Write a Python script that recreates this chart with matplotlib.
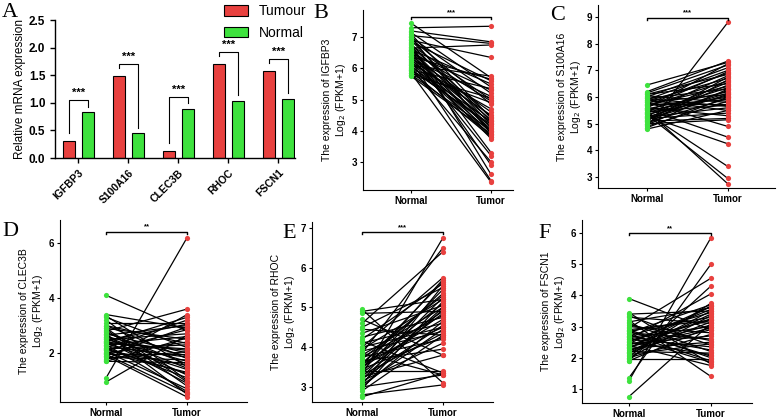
import matplotlib
matplotlib.use("Agg")
import matplotlib.pyplot as plt

plt.rcParams['font.family'] = ['Liberation Sans', 'DejaVu Sans']

# panel A: qPCR bars
genes = ["IGFBP3", "S100A16", "CLEC3B", "RHOC", "FSCN1"]
tumour_rel = [0.30, 1.49, 0.13, 1.70, 1.57]
normal_rel = [0.83, 0.45, 0.89, 1.04, 1.07]
bar_stars = ["***", "***", "***", "***", "***"]

# panels B-F: paired normal / tumor values (log2 FPKM+1)
igfbp3_normal = [7.45, 7.30, 7.20, 7.15, 7.10, 7.05, 7.00, 7.00, 6.95, 6.90, 6.90, 6.85, 6.80, 6.78, 6.75, 6.70, 6.70,
                 6.65, 6.62, 6.60, 6.60, 6.55, 6.55, 6.50, 6.48, 6.45, 6.40, 6.40, 6.38, 6.35, 6.30, 6.30, 6.28, 6.25,
                 6.20, 6.18, 6.15, 6.10, 6.10, 6.05, 6.00, 5.98, 5.95, 5.95, 5.90, 5.85, 5.85, 5.80, 5.78, 5.75]
igfbp3_tumor = [5.70, 7.35, 6.85, 5.40, 4.40, 6.80, 5.20, 3.90, 4.85, 6.35, 4.30, 5.60, 2.60, 4.20, 5.00, 3.30, 4.45,
                6.75, 4.10, 5.50, 3.80, 4.95, 2.90, 4.35, 5.30, 4.00, 3.20, 4.60, 5.65, 4.25, 3.75, 5.10, 4.05, 2.40,
                4.50, 3.95, 4.70, 5.75, 3.85, 4.30, 3.00, 4.15, 5.35, 4.20, 3.80, 4.90, 2.35, 4.00, 5.05, 3.90]

s100a16_normal = [6.45, 6.20, 6.15, 6.10, 6.05, 6.00, 5.95, 5.90, 5.90, 5.85, 5.80, 5.80, 5.75, 5.70, 5.70, 5.65, 5.60,
                  5.60, 5.55, 5.55, 5.50, 5.50, 5.45, 5.45, 5.40, 5.40, 5.35, 5.35, 5.30, 5.30, 5.25, 5.25, 5.20, 5.20,
                  5.15, 5.10, 5.10, 5.05, 5.00, 5.00, 4.95, 4.90, 4.85, 4.85, 4.80, 5.60, 5.75, 6.10, 5.95, 5.15]
s100a16_tumor = [7.30, 7.35, 7.20, 6.50, 5.80, 7.10, 6.30, 5.50, 7.00, 6.70, 6.10, 4.90, 6.90, 6.40, 5.90, 6.60, 5.30,
                 7.25, 6.20, 4.50, 6.00, 2.75, 6.80, 5.70, 6.35, 3.40, 6.05, 2.95, 6.55, 4.25, 5.60, 6.15, 6.45, 5.40,
                 6.25, 5.20, 6.75, 5.95, 6.65, 5.15, 6.30, 5.85, 8.80, 6.00, 5.50, 6.95, 5.75, 6.85, 5.65, 6.10]

clec3b_normal = [4.10, 3.40, 3.35, 3.30, 3.20, 3.10, 3.00, 2.90, 2.85, 2.80, 2.75, 2.70, 2.70, 2.65, 2.60, 2.55, 2.50,
                 2.50, 2.45, 2.40, 2.40, 2.35, 2.30, 2.30, 2.25, 2.20, 2.20, 2.15, 2.10, 2.10, 2.05, 2.00, 2.00, 1.95,
                 1.90, 1.90, 1.85, 1.80, 1.75, 1.70, 1.70, 1.10, 0.95, 2.60, 2.90, 3.00, 2.15, 2.45, 1.95, 2.35]
clec3b_tumor = [2.80, 2.90, 1.50, 2.20, 1.00, 3.10, 1.80, 2.50, 0.80, 3.60, 1.60, 2.00, 0.50, 3.00, 1.90, 1.20, 2.70,
                1.70, 0.90, 3.30, 2.10, 1.40, 2.60, 0.60, 1.85, 3.20, 1.10, 2.30, 1.55, 2.85, 0.70, 2.40, 1.30, 1.95,
                2.95, 0.40, 1.75, 2.05, 3.40, 1.65, 2.55, 6.20, 2.65, 1.45, 0.95, 2.35, 1.25, 3.05, 0.55, 2.15]

rhoc_normal = [4.95, 4.90, 4.85, 4.70, 4.60, 4.50, 4.45, 4.20, 4.15, 4.10, 4.00, 3.95, 3.90, 3.85, 3.80, 3.75, 3.70,
               3.65, 3.60, 3.55, 3.50, 3.50, 3.45, 3.40, 3.40, 3.35, 3.30, 3.30, 3.25, 3.25, 3.20, 3.20, 3.15, 3.10,
               3.05, 3.05, 3.00, 3.00, 2.95, 2.90, 2.80, 2.75, 4.25, 3.60, 3.75, 4.35, 3.85, 3.55, 3.45, 4.00]
rhoc_tumor = [3.10, 5.20, 4.90, 3.80, 6.40, 5.50, 4.30, 5.60, 3.35, 4.60, 5.75, 5.20, 4.40, 6.50, 5.00, 4.80, 5.30,
              3.95, 4.50, 5.65, 4.70, 5.10, 4.25, 5.45, 3.40, 4.85, 6.75, 4.35, 5.25, 3.80, 4.55, 5.00, 4.10, 4.95,
              5.55, 4.45, 3.30, 4.65, 5.15, 4.30, 3.05, 3.35, 4.75, 5.35, 4.20, 5.05, 3.30, 4.90, 5.70, 4.50]

fscn1_normal = [3.90, 3.45, 3.40, 3.35, 3.30, 3.20, 3.15, 3.10, 3.00, 2.95, 2.90, 2.85, 2.80, 2.80, 2.75, 2.70, 2.65,
                2.60, 2.60, 2.55, 2.50, 2.50, 2.45, 2.40, 2.40, 2.35, 2.30, 2.30, 2.25, 2.20, 2.20, 2.15, 2.10, 2.05,
                2.00, 2.00, 1.95, 1.90, 1.90, 1.35, 1.25, 0.75, 2.70, 2.90, 3.05, 2.45, 2.65, 2.35, 2.15, 2.85]
fscn1_tumor = [2.90, 1.80, 3.50, 2.40, 3.10, 1.40, 3.60, 2.20, 2.80, 4.55, 2.00, 3.30, 3.70, 2.60, 1.90, 3.45, 3.00,
               2.35, 4.05, 3.20, 2.10, 3.55, 2.70, 3.25, 1.75, 3.05, 2.50, 3.65, 2.90, 3.40, 2.15, 3.15, 2.45, 3.75,
               2.75, 3.35, 1.95, 3.00, 4.30, 5.00, 5.85, 3.10, 2.25, 3.20, 2.55, 3.65, 1.85, 2.95, 3.50, 2.05]

RED = "#e8413f"
GREEN = "#3ee23e"

fig = plt.figure(figsize=(7.78, 4.18), dpi=100)

# ---------------- panel A ----------------
axA = fig.add_axes([0.0707, 0.622, 0.308, 0.330])
x = list(range(len(genes)))
w = 0.24
xt = [i - 0.19 for i in x]
xn = [i + 0.19 for i in x]
axA.bar(xt, tumour_rel, w, color=RED, edgecolor="black", linewidth=0.8, label="Tumour")
axA.bar(xn, normal_rel, w, color=GREEN, edgecolor="black", linewidth=0.8, label="Normal")
for i in x:
    top = max(tumour_rel[i], normal_rel[i]) + 0.22
    axA.plot([xt[i], xt[i], xn[i], xn[i]],
             [tumour_rel[i] + 0.15, top, top, normal_rel[i] + 0.1], color="black", lw=0.8)
    axA.text(i, top + 0.04, bar_stars[i], ha="center", va="bottom", fontsize=8, fontweight="bold")
axA.set_xlim(-0.47, 4.33)
axA.set_ylim(0, 2.5)
axA.set_yticks([0, 0.5, 1.0, 1.5, 2.0, 2.5])
axA.set_yticklabels(["0.0", "0.5", "1.0", "1.5", "2.0", "2.5"], fontsize=8.5, fontweight="bold")
axA.set_xticks(x)
axA.set_xticklabels(genes, rotation=45, ha="right", rotation_mode="anchor", fontsize=7.5, fontweight="bold")
axA.tick_params(length=3.5, width=1.0)
axA.set_ylabel("Relative mRNA expression", fontsize=8.5, labelpad=2)
for s in ["top", "right"]:
    axA.spines[s].set_visible(False)
for s in ["left", "bottom"]:
    axA.spines[s].set_linewidth(1.0)
axA.legend(loc="upper left", bbox_to_anchor=(0.288, 0.99), bbox_transform=fig.transFigure,
           frameon=False, fontsize=10, handlelength=1.7, handleheight=0.8, labelspacing=0.55,
           borderaxespad=0, borderpad=0)


# ---------------- paired panels ----------------
def paired(rect, normal, tumor, gene, ylim, yticks, xlim, sig_y, stars):
    ax = fig.add_axes(rect)
    for a, b in zip(normal, tumor):
        ax.plot([0, 1], [a, b], color="black", lw=0.9, zorder=1)
    ax.scatter([0] * len(normal), normal, s=14, color=GREEN, zorder=2, linewidths=0)
    ax.scatter([1] * len(tumor), tumor, s=14, color=RED, zorder=2, linewidths=0)
    d = (ylim[1] - ylim[0]) * 0.012
    ax.plot([0, 0, 1, 1], [sig_y - d, sig_y, sig_y, sig_y - d], color="black", lw=1.0)
    ax.text(0.5, sig_y + d * 0.5, stars, ha="center", va="bottom", fontsize=5.5, fontweight="bold")
    ax.set_xlim(*xlim)
    ax.set_ylim(*ylim)
    ax.set_xticks([0, 1])
    ax.set_xticklabels(["Normal", "Tumor"], fontsize=7, fontweight="bold")
    ax.set_yticks(yticks)
    ax.set_yticklabels([str(t) for t in yticks], fontsize=7, fontweight="bold")
    ax.tick_params(length=2.5, width=0.8, pad=1.5)
    ax.set_ylabel("The expression of " + gene + "\nLog$_2$ (FPKM+1)", fontsize=7.5, labelpad=3)
    for s in ["top", "right"]:
        ax.spines[s].set_visible(False)
    return ax


paired([0.4666, 0.5455, 0.1928, 0.4305], igfbp3_normal, igfbp3_tumor, "IGFBP3",
       (2.1, 7.87), [3, 4, 5, 6, 7], (-0.6, 1.275), 7.64, "***")
paired([0.7686, 0.550, 0.2274, 0.438], s100a16_normal, s100a16_tumor, "S100A16",
       (2.59, 9.45), [3, 4, 5, 6, 7, 8, 9], (-0.6, 1.58), 8.97, "***")
paired([0.0771, 0.0383, 0.2404, 0.4354], clec3b_normal, clec3b_tumor, "CLEC3B",
       (0.22, 6.84), [2, 4, 6], (-0.57, 1.74), 6.41, "**")
paired([0.401, 0.0383, 0.2327, 0.4307], rhoc_normal, rhoc_tumor, "RHOC",
       (2.62, 7.15), [3, 4, 5, 6, 7], (-0.62, 1.62), 6.9, "***")
paired([0.748, 0.0359, 0.2186, 0.438], fscn1_normal, fscn1_tumor, "FSCN1",
       (0.55, 6.42), [1, 2, 3, 4, 5, 6], (-0.57, 1.5), 6.0, "**")

# panel letters
for lab, px, py in [("A", 2, 17), ("B", 313, 18), ("C", 550, 20),
                    ("D", 2, 236), ("E", 282, 238), ("F", 538, 238)]:
    fig.text(px / 778, 1 - py / 418, lab, fontsize=16, family="Liberation Serif", va="baseline")

fig.savefig("out.png", dpi=100)
